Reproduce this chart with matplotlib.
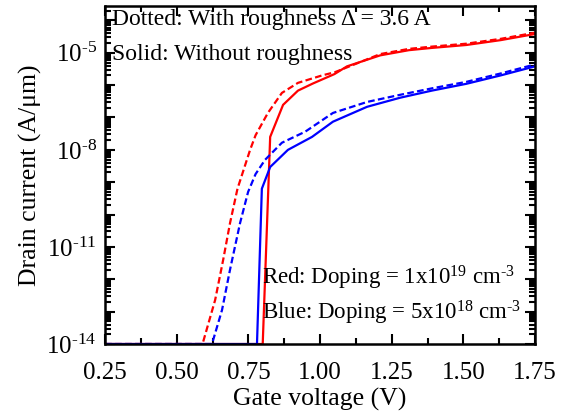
import numpy as np
import matplotlib
matplotlib.use("Agg")
import matplotlib.pyplot as plt
from matplotlib.ticker import FixedLocator, FuncFormatter, MultipleLocator

plt.rcParams['font.family'] = ['Liberation Serif', 'DejaVu Serif']
plt.rcParams['mathtext.fontset'] = 'custom'
plt.rcParams['mathtext.rm'] = 'Liberation Serif'
plt.rcParams['mathtext.it'] = 'Liberation Serif:italic'

# gate voltage (V) and log10 of drain current (A/um)
red_solid_v = [0.25, 0.80, 0.826, 0.871, 0.923, 0.975, 1.05, 1.094, 1.21, 1.31, 1.39, 1.51, 1.63, 1.75]
red_solid_log = [-14, -14, -7.6, -6.61, -6.17, -5.95, -5.66, -5.42, -5.08, -4.92, -4.85, -4.76, -4.61, -4.42]

red_dash_v = [0.25, 0.59, 0.634, 0.662, 0.686, 0.712, 0.756, 0.775, 0.818, 0.867, 0.923,
              1.007, 1.052, 1.21, 1.31, 1.39, 1.51, 1.63, 1.75]
red_dash_log = [-14, -14, -12.64, -11.4, -10.26, -9.2, -8.0, -7.55, -6.86, -6.24, -5.93,
                -5.7, -5.6, -5.04, -4.88, -4.81, -4.72, -4.57, -4.38]

blue_solid_v = [0.25, 0.78, 0.797, 0.826, 0.888, 0.972, 1.045, 1.164, 1.279, 1.39, 1.51, 1.63, 1.75]
blue_solid_log = [-14, -14, -9.2, -8.53, -8.0, -7.6, -7.13, -6.67, -6.39, -6.17, -5.96, -5.7, -5.42]

blue_dash_v = [0.25, 0.623, 0.658, 0.686, 0.721, 0.749, 0.775, 0.808, 0.867, 0.948, 1.045,
               1.164, 1.279, 1.39, 1.51, 1.63, 1.75]
blue_dash_log = [-14, -14, -12.95, -11.7, -10.26, -9.3, -8.75, -8.31, -7.78, -7.44, -6.86,
                 -6.52, -6.3, -6.1, -5.9, -5.64, -5.36]

x_ticks = [0.25, 0.50, 0.75, 1.00, 1.25, 1.50, 1.75]
y_decades = list(range(-14, -3))

fig = plt.figure(figsize=(5.71, 4.17), dpi=100)
ax = fig.add_axes([0.184, 0.175, 0.753, 0.811])

lw = 1.6
dash = (0, (3, 1.5))
ax.plot(red_dash_v, 10.0 ** np.array(red_dash_log), color='#ff0000', lw=lw, ls=dash)
ax.plot(red_solid_v, 10.0 ** np.array(red_solid_log), color='#ff0000', lw=lw)
ax.plot(blue_dash_v, 10.0 ** np.array(blue_dash_log), color='#0000ff', lw=lw, ls=dash)
ax.plot(blue_solid_v, 10.0 ** np.array(blue_solid_log), color='#0000ff', lw=lw)

ax.set_yscale('log')
ax.set_xlim(0.25, 1.75)
ax.set_ylim(1e-14, 10 ** -3.55)

ax.xaxis.set_major_locator(FixedLocator(x_ticks))
ax.xaxis.set_minor_locator(MultipleLocator(0.125))
ax.xaxis.set_major_formatter(FuncFormatter(lambda v, p: f"{v:.2f}"))

ax.yaxis.set_major_locator(FixedLocator([10.0 ** d for d in y_decades]))
minors = [m * 10.0 ** d for d in y_decades for m in range(2, 10)]
ax.yaxis.set_minor_locator(FixedLocator(minors))


def ylab(v, p):
    e = int(round(np.log10(v)))
    return r"10$^{\text{%d}}$" % e if e % 3 == 1 else ""


ax.yaxis.set_major_formatter(FuncFormatter(ylab))
ax.yaxis.set_minor_formatter(FuncFormatter(lambda v, p: ""))

ax.tick_params(which='both', direction='in', top=True, right=True, width=1.5)
ax.tick_params(which='major', length=7, labelsize=18, pad=6)
ax.tick_params(axis='x', which='major', pad=13)
ax.tick_params(which='minor', length=4)
for s in ax.spines.values():
    s.set_linewidth(1.8)

ax.set_xlabel("Gate voltage (V)", fontsize=18.5, labelpad=3)
ax.set_ylabel("Drain current (A/μm)", fontsize=18.5, labelpad=3)

ax.text(0.017, 0.96, "Dotted: With roughness Δ = 3.6 A", transform=ax.transAxes,
        fontsize=17, va='center', ha='left')
ax.text(0.017, 0.855, "Solid: Without roughness", transform=ax.transAxes,
        fontsize=17, va='center', ha='left')
ax.text(0.366, 0.195, r"Red: Doping = 1x10$^{\text{19}}$ cm$^{\text{-3}}$", transform=ax.transAxes,
        fontsize=16.5, va='center', ha='left')
ax.text(0.366, 0.093, r"Blue: Doping = 5x10$^{\text{18}}$ cm$^{\text{-3}}$", transform=ax.transAxes,
        fontsize=16.5, va='center', ha='left')

fig.savefig("out.png", dpi=100)
